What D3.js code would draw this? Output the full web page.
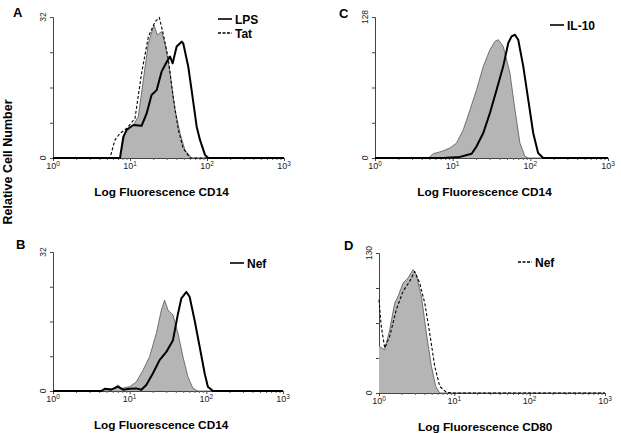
<!DOCTYPE html>
<html><head><meta charset="utf-8">
<script src="https://cdn.jsdelivr.net/npm/d3@7/dist/d3.min.js"></script>
<style>body{margin:0;background:#fff}svg{display:block;font-family:"Liberation Sans",Arial,sans-serif}</style>
</head><body><svg id="c" width="621" height="433"></svg>
<script>
// ---- data: [log10 fluorescence, cell count] ----
const decadeTicks = [0, 1, 2, 3];
const panelLetters = ["A", "B", "C", "D"];
const axisTitles = ["Log Fluorescence CD14", "Log Fluorescence CD14", "Log Fluorescence CD14", "Log Fluorescence CD80"];
const yMaxValues = [32, 32, 128, 130];
const yTitle = "Relative Cell Number";

const aControl = [[0,0],[0.87,0],[0.935,5.6],[1.043,7.5],[1.108,9.4],[1.173,17.7],[1.238,26],[1.312,30.2],[1.355,27.9],[1.41,28.7],[1.455,26],[1.52,19.2],[1.584,10.9],[1.65,5.6],[1.714,1.8],[1.8,0],[3,0]];
const aTat = [[0,0],[0.74,0],[0.805,4.1],[0.87,5.6],[0.957,6.7],[1.065,9.0],[1.15,19.2],[1.238,27.5],[1.325,30.9],[1.38,31.9],[1.43,28.3],[1.497,22.6],[1.56,13.9],[1.628,6.4],[1.69,2.2],[1.78,0],[3,0]];
const aLPS = [[0,0],[0.87,0],[0.913,4.8],[0.957,6.4],[1.043,7.5],[1.15,7.3],[1.216,10.1],[1.28,14.3],[1.346,15.4],[1.41,19.6],[1.476,21.8],[1.52,23],[1.554,21.5],[1.606,25.3],[1.671,26.4],[1.692,26],[1.757,20.7],[1.8,15.4],[1.866,7.1],[1.909,4.1],[1.974,0.7],[2.017,0],[3,0]];

const bControl = [[0,0],[0.652,0],[0.696,0.6],[0.78,0.5],[0.848,1.4],[0.892,0.6],[1.0,1.0],[1.087,2.1],[1.174,4.8],[1.26,7.9],[1.348,13.3],[1.413,18.6],[1.456,20.9],[1.5,18.6],[1.565,17.5],[1.63,13.3],[1.695,7.9],[1.76,3.3],[1.825,0.6],[1.89,0],[3,0]];
const bNef = [[0,0],[0.63,0],[0.674,0.5],[0.76,0.3],[0.848,1.0],[0.913,0.3],[1.0,0.5],[1.087,0.6],[1.152,0.3],[1.217,1.4],[1.304,4.1],[1.39,7.1],[1.478,9.0],[1.565,11.7],[1.63,17.8],[1.674,21.3],[1.74,22.8],[1.782,21.7],[1.847,16.3],[1.913,10.2],[1.978,4.1],[2.02,1.0],[2.087,0],[3,0]];

const cControl = [[0,0],[0.686,0],[0.75,3.9],[0.858,6],[0.965,9.1],[1.05,13.6],[1.137,25.7],[1.223,43.8],[1.308,62],[1.394,83.2],[1.48,98.3],[1.544,105.8],[1.587,107.4],[1.651,101.3],[1.737,77.2],[1.802,43.8],[1.866,13.6],[1.93,1.5],[1.973,0],[3,0]];
const cIL10 = [[0,0],[0.88,0],[1.094,1],[1.244,3.9],[1.308,10.6],[1.394,22.7],[1.48,40.9],[1.566,62],[1.651,83.2],[1.716,104.4],[1.759,110.4],[1.802,111.9],[1.844,107.4],[1.909,83.2],[1.973,52.9],[2.037,22.7],[2.1,4.5],[2.166,0],[3,0]];

const dControl = [[0,43.3],[0.076,40.2],[0.142,58.8],[0.209,83.6],[0.253,89.7],[0.319,102.1],[0.385,106.8],[0.452,114.5],[0.496,109.8],[0.563,89.7],[0.629,55.7],[0.696,24.7],[0.753,6.2],[0.806,0],[3,0]];
const dNef = [[0,86.6],[0.03,61.9],[0.076,41.8],[0.142,52.6],[0.23,77.4],[0.319,94.4],[0.408,103.7],[0.474,112.9],[0.54,102.1],[0.607,83.6],[0.673,55.7],[0.74,24.7],[0.806,6.2],[0.894,0.6],[0.98,0],[3,0]];

const legendA = [["LPS", "solid"], ["Tat", "dash"]];
const legendB = [["Nef", "solid"]];
const legendC = [["IL-10", "solid"]];
const legendD = [["Nef", "dash"]];

// ---- layout ----
const panels = [
  {letter: panelLetters[0], title: axisTitles[0], ymax: yMaxValues[0], x0: 53, x1: 284, yt: 17, yb: 158,
   letterPos: [13, 17], control: aControl, lines: [[aTat, "dash"], [aLPS, "solid"]], legend: legendA, legPos: [218, 19]},
  {letter: panelLetters[1], title: axisTitles[1], ymax: yMaxValues[1], x0: 53, x1: 283, yt: 252, yb: 391,
   letterPos: [16, 249], control: bControl, lines: [[bNef, "solid"]], legend: legendB, legPos: [230, 263]},
  {letter: panelLetters[2], title: axisTitles[2], ymax: yMaxValues[2], x0: 375, x1: 608, yt: 17, yb: 158,
   letterPos: [339, 18], control: cControl, lines: [[cIL10, "solid"]], legend: legendC, legPos: [550, 25]},
  {letter: panelLetters[3], title: axisTitles[3], ymax: yMaxValues[3], x0: 379, x1: 605, yt: 253, yb: 393,
   letterPos: [344, 250], control: dControl, lines: [[dNef, "dash"]], legend: legendD, legPos: [518, 262]}
];

const svg = d3.select("#c");

svg.append("text").attr("transform", "translate(12,162) rotate(-90)")
  .attr("text-anchor", "middle").attr("font-size", 12.5).attr("font-weight", "bold").text(yTitle);

panels.forEach(p => {
  const g = svg.append("g");
  const x = d3.scaleLog().domain([1, 1000]).range([p.x0, p.x1]);
  const y = d3.scaleLinear().domain([0, p.ymax]).range([p.yb, p.yt]);
  const px = d => x(Math.pow(10, d[0]));

  g.append("text").attr("x", p.letterPos[0]).attr("y", p.letterPos[1])
    .attr("font-size", 13).attr("font-weight", "bold").text(p.letter);

  const yAxis = d3.axisLeft(y).tickValues(d3.range(0, 5).map(i => p.ymax * i / 4)).tickSize(3).tickFormat("");
  const ya = g.append("g").attr("transform", `translate(${p.x0},0)`).call(yAxis);
  ya.select(".domain").attr("stroke", "#444").attr("stroke-width", 1);
  ya.selectAll(".tick line").attr("stroke", "#444");
  [0, p.ymax].forEach(v => {
    g.append("text").attr("transform", `translate(${p.x0 - 7},${y(v)}) rotate(-90)`)
      .attr("text-anchor", "middle").attr("font-size", 8.5).attr("fill", "#222").text(v);
  });

  const minor = [];
  for (let k = 0; k < 3; k++) for (let m = 2; m <= 9; m++) minor.push(m * Math.pow(10, k));
  const xAxisMinor = d3.axisBottom(x).tickValues(minor).tickSize(2).tickFormat("");
  const xm = g.append("g").attr("transform", `translate(0,${p.yb})`).call(xAxisMinor);
  xm.select(".domain").attr("stroke", "#444");
  xm.selectAll(".tick line").attr("stroke", "#666");
  const xAxisMajor = d3.axisBottom(x).tickValues(decadeTicks.map(d => Math.pow(10, d))).tickSize(3).tickFormat("");
  const xa = g.append("g").attr("transform", `translate(0,${p.yb})`).call(xAxisMajor);
  xa.select(".domain").remove();
  xa.selectAll(".tick line").attr("stroke", "#444");
  decadeTicks.forEach(dk => {
    const t = g.append("text").attr("x", x(Math.pow(10, dk))).attr("y", p.yb + 11)
      .attr("text-anchor", "middle").attr("font-size", 9).attr("fill", "#222");
    t.append("tspan").text("10");
    t.append("tspan").attr("dy", -3.5).attr("font-size", 6.5).text(dk);
  });

  g.append("text").attr("x", (p.x0 + p.x1) / 2 - (p.x1 - p.x0) * 0.03).attr("y", p.yb + 38)
    .attr("text-anchor", "middle").attr("font-size", 11.8).attr("font-weight", "bold").text(p.title);

  const area = d3.area().x(px).y0(p.yb).y1(d => y(d[1]));
  const line = d3.line().x(px).y(d => y(d[1]));
  g.append("path").datum(p.control).attr("d", area).attr("fill", "#b5b5b5");
  g.append("path").datum(p.control).attr("d", line).attr("fill", "none").attr("stroke", "#555").attr("stroke-width", 0.8);

  p.lines.forEach(([data, style]) => {
    g.append("path").datum(data).attr("d", line).attr("fill", "none")
      .attr("stroke", "#000")
      .attr("stroke-width", style === "solid" ? 2 : 1.1)
      .attr("stroke-dasharray", style === "solid" ? null : "3,2")
      .attr("stroke-linejoin", "round");
  });

  p.legend.forEach(([name, style], i) => {
    const ly = p.legPos[1] + i * 14;
    g.append("line").attr("x1", p.legPos[0]).attr("x2", p.legPos[0] + 14).attr("y1", ly).attr("y2", ly)
      .attr("stroke", "#000").attr("stroke-width", style === "solid" ? 1.6 : 1.4)
      .attr("stroke-dasharray", style === "solid" ? null : "3,1.5");
    g.append("text").attr("x", p.legPos[0] + 17).attr("y", ly + 4.5)
      .attr("font-size", 12).attr("font-weight", "bold").text(name);
  });
});
</script></body></html>
